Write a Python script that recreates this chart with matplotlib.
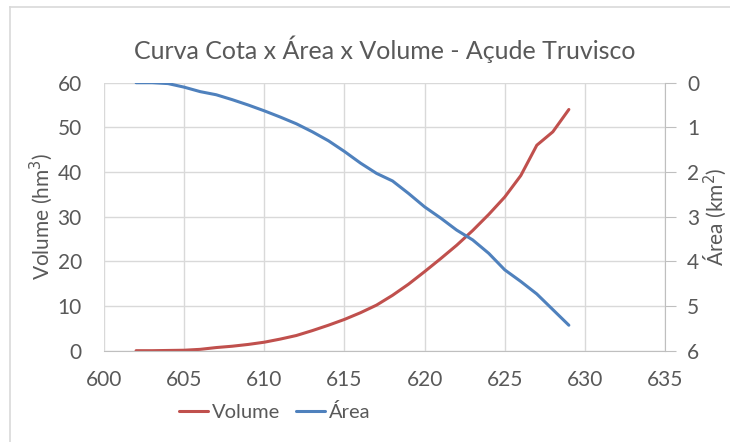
import matplotlib
matplotlib.use("Agg")
import matplotlib.pyplot as plt
from matplotlib.lines import Line2D

plt.rcParams['font.family'] = ['Lato', 'DejaVu Sans']

# cota (m)
cota = [602, 603, 604, 605, 606, 607, 608, 609, 610, 611, 612, 613, 614, 615,
        616, 617, 618, 619, 620, 621, 622, 623, 624, 625, 626, 627, 628, 629]
# volume (hm3)
volume = [0.0, 0.0, 0.05, 0.1, 0.3, 0.7, 1.0, 1.4, 1.9, 2.6, 3.4, 4.5, 5.7, 7.0,
          8.5, 10.2, 12.4, 14.9, 17.7, 20.6, 23.6, 26.9, 30.5, 34.4, 39.2, 46.0, 49.0, 54.0]
# area (km2)
area = [0.0, 0.0, 0.02, 0.1, 0.2, 0.27, 0.38, 0.5, 0.63, 0.77, 0.92, 1.1, 1.3, 1.54,
        1.8, 2.03, 2.2, 2.48, 2.78, 3.03, 3.3, 3.52, 3.82, 4.19, 4.45, 4.73, 5.08, 5.43]

txt = '#595959'
grid = '#d9d9d9'
red = '#c0504d'
blue = '#4f81bd'

fig = plt.figure(figsize=(7.3, 4.42), dpi=100)
ax = fig.add_axes([0.1425, 0.2066, 0.7685, 0.6063])
ax2 = ax.twinx()

l1, = ax.plot(cota, volume, color=red, lw=2.2, solid_capstyle='round', label='Volume')
l2, = ax2.plot(cota, area, color=blue, lw=2.2, solid_capstyle='round', label='Área')

ax.set_xlim(600, 635)
ax.set_ylim(0, 60)
ax2.set_ylim(6, 0)
ax.set_xticks(range(600, 636, 5))
ax.set_yticks(range(0, 61, 10))
ax2.set_yticks(range(0, 7))

ax.grid(True, color=grid, lw=1)
ax.set_axisbelow(True)
for a in (ax, ax2):
    for s in a.spines.values():
        s.set_visible(False)
ax2.spines['right'].set_visible(True)
ax2.spines['right'].set_color('#bfbfbf')
ax.spines['bottom'].set_visible(True)
ax.spines['bottom'].set_color('#bfbfbf')

ax.tick_params(axis='both', length=0, labelsize=15, labelcolor=txt)
ax.tick_params(axis='y', pad=16)
ax.tick_params(axis='x', pad=14)
ax2.tick_params(axis='y', length=8, color='#bfbfbf', labelsize=15, labelcolor=txt, pad=8)

ax.set_ylabel('Volume (hm$^3$)', fontsize=15, color=txt, labelpad=2)
ax2.set_ylabel('Área (km$^2$)', fontsize=15, color=txt, labelpad=2)
ax.set_title('Curva Cota x Área x Volume - Açude Truvisco', fontsize=18, color=txt, pad=17)

fig.legend(handles=[l1, l2], loc='center', bbox_to_anchor=(0.376, 0.068), ncol=2,
           frameon=False, fontsize=14.5, labelcolor=txt, handlelength=1.45,
           handletextpad=0.17, columnspacing=0.8)

# chart area frame (partly cropped)
fig.add_artist(Line2D([10 / 730, 10 / 730], [0, 1 - 7 / 442], transform=fig.transFigure, color=grid, lw=1.2))
fig.add_artist(Line2D([10 / 730, 1], [1 - 7 / 442, 1 - 7 / 442], transform=fig.transFigure, color=grid, lw=1.2))

fig.savefig('out.png', dpi=100)
